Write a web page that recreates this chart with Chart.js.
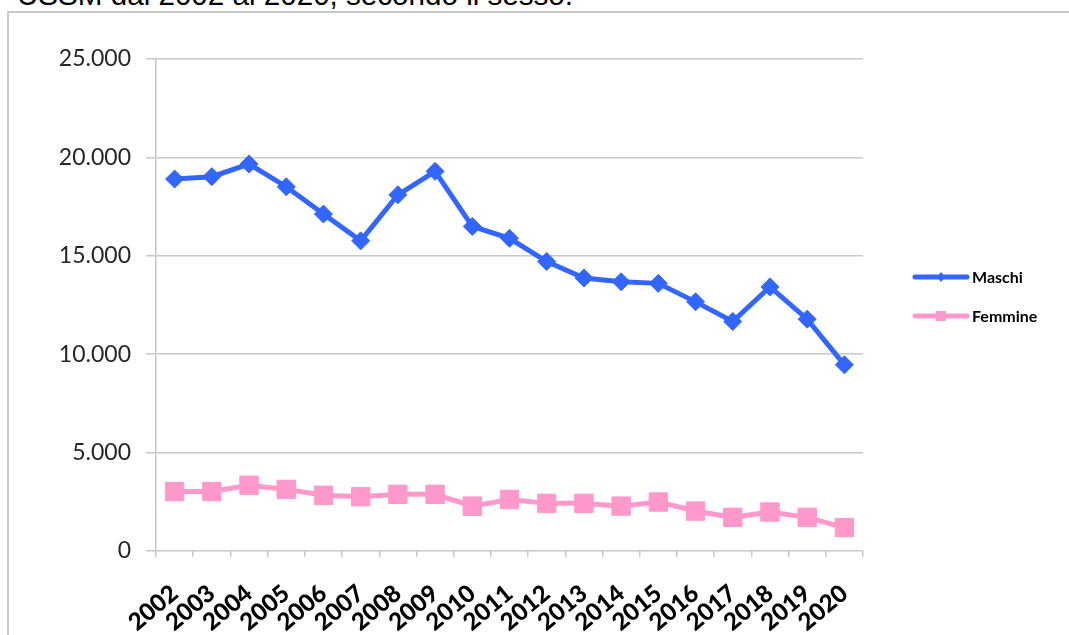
<!DOCTYPE html>
<html><head><meta charset="utf-8">
<script src="https://cdn.jsdelivr.net/npm/chart.js@4/dist/chart.umd.min.js"></script>
<style>
html,body{margin:0;padding:0;background:#fff;width:1069px;height:635px;overflow:hidden;}
#cap{position:absolute;left:17px;top:-22px;font:29.6px "Liberation Sans",Arial,sans-serif;color:#000;white-space:nowrap;}
#box{position:absolute;left:7px;top:11px;width:1080px;height:700px;border:2px solid #c8c8c8;}
#wrap{position:absolute;left:0;top:0;width:1069px;height:635px;}
</style></head><body>
<div id="cap">USSM dal 2002 al 2020, secondo il sesso.</div>
<div id="box"></div>
<div id="wrap"><canvas id="c" width="1069" height="635"></canvas></div>
<script>
const years = ['2002','2003','2004','2005','2006','2007','2008','2009','2010','2011','2012','2013','2014','2015','2016','2017','2018','2019','2020'];
const maschi = [18900,19020,19660,18510,17120,15760,18100,19290,16490,15890,14710,13870,13680,13600,12660,11660,13420,11780,9460];
const femmine = [3020,3020,3340,3130,2830,2760,2880,2880,2280,2620,2420,2420,2280,2490,2030,1710,1980,1710,1190];
const yMax = 25000;
const yStep = 5000;

function fmt(v){
  if (v === 0) return '0';
  return String(v).replace(/\B(?=(\d{3})+(?!\d))/g, '.');
}

const legendPlugin = {
  id: 'customLegend',
  afterDraw(chart){
    const ctx = chart.ctx;
    const items = [
      {ds: chart.data.datasets[0], y: 277, shape: 'diamond'},
      {ds: chart.data.datasets[1], y: 316, shape: 'square'}
    ];
    ctx.save();
    items.forEach(it => {
      ctx.strokeStyle = it.ds.borderColor;
      ctx.lineWidth = 5;
      ctx.lineCap = 'round';
      ctx.beginPath();
      ctx.moveTo(915, it.y);
      ctx.lineTo(967, it.y);
      ctx.stroke();
      ctx.fillStyle = it.ds.borderColor;
      ctx.beginPath();
      if (it.shape === 'diamond') {
        ctx.moveTo(941, it.y - 5); ctx.lineTo(945, it.y); ctx.lineTo(941, it.y + 5); ctx.lineTo(937, it.y);
      } else {
        ctx.rect(936, it.y - 5, 10, 10);
      }
      ctx.closePath();
      ctx.fill();
      ctx.fillStyle = '#000';
      ctx.font = 'bold 16px Lato, "Open Sans", sans-serif';
      ctx.textBaseline = 'middle';
      ctx.textAlign = 'left';
      ctx.fillText(it.ds.label, 972, it.y + 1);
    });
    ctx.restore();
  }
};

new Chart(document.getElementById('c'), {
  type: 'line',
  data: {
    labels: years,
    datasets: [
      {
        label: 'Maschi', data: maschi,
        borderColor: '#3366ff', backgroundColor: '#3366ff',
        borderWidth: 5, tension: 0,
        pointStyle: 'rectRot', pointRadius: 9, pointBorderWidth: 1,
        pointBackgroundColor: '#3366ff', pointBorderColor: '#3366ff'
      },
      {
        label: 'Femmine', data: femmine,
        borderColor: '#ff99cc', backgroundColor: '#ff99cc',
        borderWidth: 5, tension: 0,
        pointStyle: 'rect', pointRadius: 13, pointBorderWidth: 1,
        pointBackgroundColor: '#ff99cc', pointBorderColor: '#ff99cc'
      }
    ]
  },
  options: {
    responsive: false,
    animation: false,
    devicePixelRatio: 1,
    layout: { padding: { left: 0, right: 206, top: 59, bottom: 0 } },
    plugins: { legend: { display: false }, tooltip: { enabled: false } },
    scales: {
      x: {
        offset: true,
        grid: { display: true, drawOnChartArea: false, offset: true, tickLength: 6, color: '#c8c8c8', lineWidth: 1.5 },
        border: { display: false },
        ticks: {
          autoSkip: false, minRotation: 40, maxRotation: 40,
          color: '#000', padding: 22,
          font: { family: 'Lato, "Open Sans", sans-serif', size: 24, weight: 900 }
        },
        afterFit(scale){ scale.height = 84; }
      },
      y: {
        min: 0, max: yMax,
        grid: { color: '#c8c8c8', lineWidth: 1.5, tickLength: 10 },
        border: { display: true, color: '#c8c8c8', width: 1.5 },
        ticks: {
          stepSize: yStep, padding: 15, color: '#262626',
          font: { family: 'Lato, "Open Sans", sans-serif', size: 23 },
          callback: v => fmt(v)
        },
        afterFit(scale){ scale.width = 156; }
      }
    }
  },
  plugins: [legendPlugin]
});
</script>
</body></html>
